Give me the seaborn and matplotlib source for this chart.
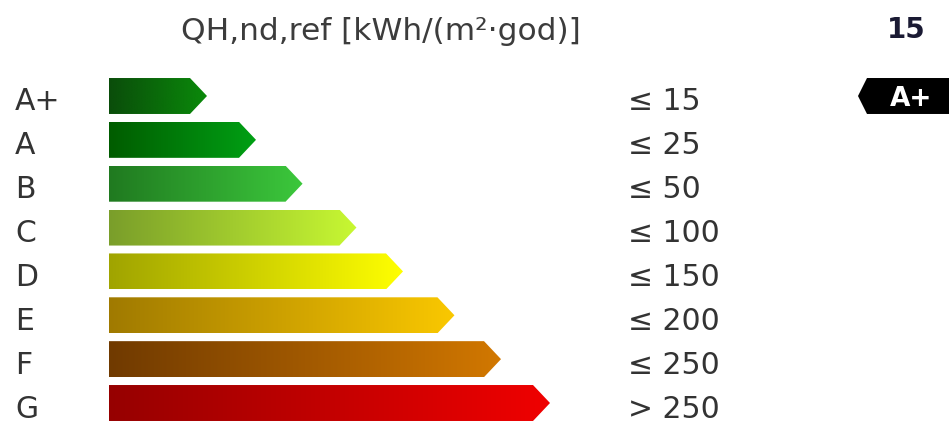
import numpy as np
import matplotlib
matplotlib.use("Agg")
import matplotlib.pyplot as plt
import seaborn as sns
from matplotlib.colors import LinearSegmentedColormap
from matplotlib.patches import Polygon
from matplotlib.transforms import blended_transform_factory

# energy classes, arrow lengths (relative units) and class limits
classes = ["A+", "A", "B", "C", "D", "E", "F", "G"]
bar_len = [2.0, 3.0, 3.95, 5.05, 6.0, 7.05, 8.0, 9.0]
limits = ["≤ 15", "≤ 25", "≤ 50", "≤ 100", "≤ 150", "≤ 200", "≤ 250", "> 250"]

# gradient colours of each arrow, dark (left) -> bright (right)
left_colors = ["#0a4d0a", "#005c00", "#207a20", "#7a9e2a", "#a0a400", "#a07a00", "#703a00", "#960000"]
right_colors = ["#0a8a0a", "#00a014", "#3cc83c", "#c8f832", "#ffff00", "#fac800", "#d27800", "#f00000"]

title = "QH,nd,ref [kWh/(m²·god)]"
value = "15"
rating = "A+"

sns.set_style("white")
plt.rcParams["font.family"] = ["DejaVu Sans"]

W, H = 949, 421
fig = plt.figure(figsize=(W / 100, H / 100), dpi=100)
ax = fig.add_axes([0, 0, 1, 1])

sns.barplot(x=bar_len, y=classes, orient="h", width=0.82, ax=ax)

unit = 49.0   # px per length unit
pitch = 43.86 # px per class row
xlim = (-109 / unit, (W - 109) / unit)
ylim = (7 + (H - 403) / pitch, -96 / pitch)

tip = 17 / unit
grad = np.linspace(0, 1, 256)[None, :]
for i, p in enumerate(list(ax.patches)):
    x0, w = p.get_x(), p.get_width()
    y0, h = p.get_y(), p.get_height()
    p.set_visible(False)
    poly = Polygon([(x0, y0), (x0 + w - tip, y0), (x0 + w, y0 + h / 2),
                    (x0 + w - tip, y0 + h), (x0, y0 + h)],
                   closed=True, facecolor="none", edgecolor="none")
    ax.add_patch(poly)
    cmap = LinearSegmentedColormap.from_list("c%d" % i, [left_colors[i], right_colors[i]])
    im = ax.imshow(grad, cmap=cmap, extent=(x0, x0 + w, y0 + h, y0), aspect="auto", zorder=2)
    im.set_clip_path(poly)

ax.set_xlim(*xlim)
ax.set_ylim(*ylim)
ax.set_axis_off()

trans = blended_transform_factory(fig.transFigure, ax.transData)
base = 14.5 / pitch
for i, cls in enumerate(classes):
    ax.text(15 / W, i + base, cls, transform=trans, ha="left", va="baseline",
            fontsize=21.5, color="#333333")
    ax.text(628 / W, i + base, limits[i], transform=trans, ha="left", va="baseline",
            fontsize=21.5, color="#333333")

fig.text(381 / W, 1 - 40 / H, title, ha="center", va="baseline", fontsize=22.5, color="#3c3c3c")
fig.text(906 / W, 1 - 38 / H, value, ha="center", va="baseline", fontsize=20,
         fontweight="bold", color="#1a1a33")

# badge pointing at the rating row
r = classes.index(rating)
badge = Polygon([(858 / W, r), (867 / W, r - 0.41), (1.0, r - 0.41),
                 (1.0, r + 0.41), (867 / W, r + 0.41)],
                closed=True, facecolor="black", edgecolor="none", transform=trans)
ax.add_patch(badge)
ax.text(911 / W, r + 10 / pitch, rating, transform=trans, ha="center", va="baseline",
        fontsize=19, fontweight="bold", color="white")

fig.savefig("out.png", dpi=100)
